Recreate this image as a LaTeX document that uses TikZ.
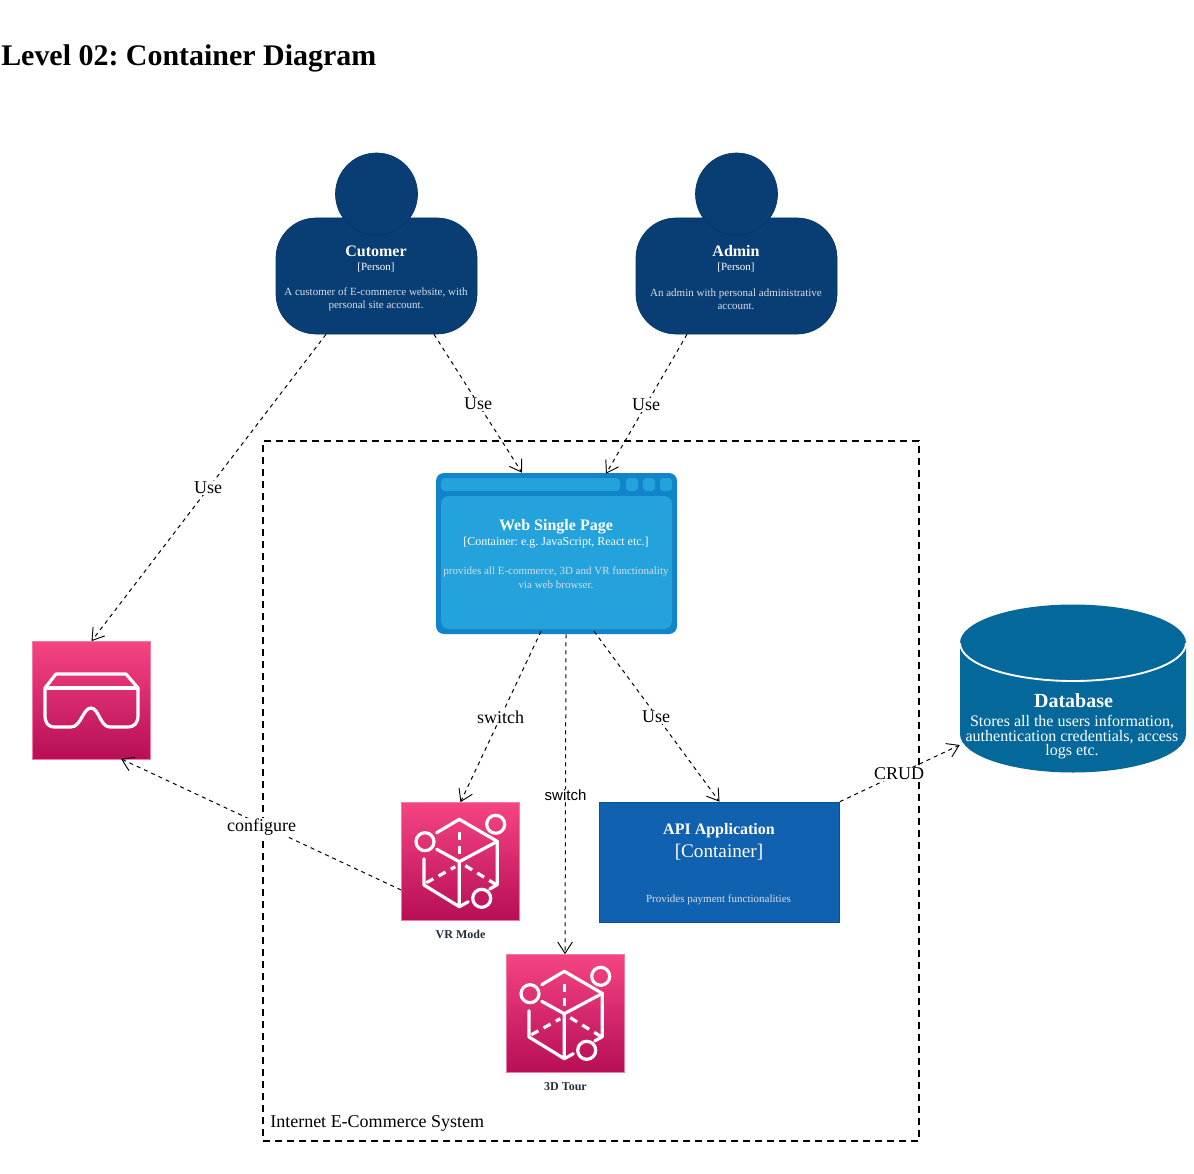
\documentclass[tikz,border=0pt]{standalone}
\usepackage{fontspec}
\setmainfont{Liberation Serif}
\newfontfamily\arialf{Liberation Sans}
\usetikzlibrary{arrows.meta,calc}
\definecolor{persona}{HTML}{083E74}
\definecolor{personb}{HTML}{073767}
\definecolor{webdark}{HTML}{1184CA}
\definecolor{weblight}{HTML}{23A2DC}
\definecolor{dbblue}{HTML}{05689B}
\definecolor{apiblue}{HTML}{1061B0}
\definecolor{apiedge}{HTML}{0D5091}
\definecolor{pinktop}{HTML}{F54483}
\definecolor{pinkbot}{HTML}{B70E56}
\definecolor{pinkedge}{HTML}{F07AA5}
\definecolor{lightt}{HTML}{D5DEE8}
\definecolor{darklab}{HTML}{232F3E}
\newcommand{\px}[2]{\fontsize{#1}{#2}\selectfont}
\tikzset{
  conn/.style={draw=black,line width=0.75pt,dash pattern=on 3pt off 3pt,
    -{Straight Barb[length=8.5pt,width=11pt,line width=0.7pt]}},
  edgelabel/.style={fill=white,inner sep=0.6pt,font=\px{13.5}{15}},
  awsbox/.style={rectangle,minimum width=88.5pt,minimum height=88.5pt,inner sep=0,
    draw=pinkedge,line width=0.5pt,top color=pinktop,bottom color=pinkbot},
  icon/.style={draw=white,line width=2.4pt,line cap=round,line join=round},
  icond/.style={draw=white,line width=2.4pt,line cap=butt,dash pattern=on 6pt off 4.5pt},
  persbody/.style={rectangle,rounded corners=30pt,minimum width=150.75pt,minimum height=87pt,
    inner sep=0,fill=persona,draw=personb,line width=0.5pt},
  pershead/.style={circle,minimum size=61.5pt,inner sep=0,fill=persona,draw=personb,line width=0.5pt},
  ttl/.style={text=white,inner sep=0,font=\bfseries\px{12}{14}},
  tag/.style={text=white,inner sep=0,font=\px{8.25}{10}},
  descr/.style={text=lightt,inner sep=0,align=center,font=\px{8.25}{9.6}},
  cubeicon/.pic={
    \draw[icon] (-22.6,-29) -- (0,-42.4) -- (38,-20.3) -- (38,23) -- (30.5,27.2);
    \draw[icon] (-22.6,-12.4) -- (0,0) -- (38,-20.3);
    \draw[icon] (0,0) -- (0,45) -- (-35.3,23.3) -- (-35.3,-3);
    \draw[icon] (0,45) -- (9,40);
    \draw[icond] (0,-30) -- (0,-6);
    \draw[icond] (-33,21) -- (-4,5);
    \draw[icond] (6,4) -- (37,23);
    \draw[icon,fill=none] (-34.3,-20) circle (9);
    \draw[icon,fill=none] (36.4,-37.4) circle (9);
    \draw[icon,fill=none] (22.4,36.6) circle (9);
  }
}
\begin{document}
\frenchspacing
\begin{tikzpicture}[x=0.75pt,y=-0.75pt]
\useasboundingbox (0,0) rectangle (1194,1173);
\fill[white] (0,0) rectangle (1194,1173);

\node[anchor=west,inner sep=0,font=\bfseries\px{22.45}{24}] (title) at (1,58) {Level 02: Container Diagram};

% system boundary
\node[rectangle,draw=black,line width=1.5pt,dash pattern=on 5.5pt off 3.5pt,minimum width=492pt,minimum height=525pt,inner sep=0] (boundary) at (591,791) {};
\node[anchor=west,inner sep=0,font=\px{13.5}{15}] (boundarylabel) at (270,1123) {Internet E-Commerce System};

% persons
\node[persbody] (cust) at (376.5,276) {};
\node[pershead] (custhead) at (376.5,194) {};
\node[ttl] (custt) at (376,251) {Cutomer};
\node[tag] (custk) at (376,267) {[Person]};
\node[descr] (custd) at (376,299.5) {A customer of E-commerce website, with\\personal site account.};

\node[persbody] (adm) at (736.5,276) {};
\node[pershead] (admhead) at (736.5,194) {};
\node[ttl] (admt) at (736,251) {Admin};
\node[tag] (admk) at (736,267) {[Person]};
\node[descr] (admd) at (736,299) {An admin with personal administrative\\account.};

% web application
\node[rectangle,rounded corners=6pt,fill=webdark,minimum width=180.75pt,minimum height=120.75pt,inner sep=0] (web) at (556.5,553.5) {};
\fill[weblight,rounded corners=3pt] (441,478) rectangle (620,491);
\fill[weblight,rounded corners=2.5pt] (626,478) rectangle (638,491);
\fill[weblight,rounded corners=2.5pt] (643,478) rectangle (655,491);
\fill[weblight,rounded corners=2.5pt] (660,478) rectangle (672,491);
\fill[weblight,rounded corners=6pt] (441,496) rectangle (672,629);
\node[ttl] (webt) at (556,526.5) {Web Single Page};
\node[text=white,inner sep=0,font=\px{9}{10}] (webk) at (556,543) {[Container: e.g. JavaScript, React etc.]};
\node[descr,font=\px{8.25}{10.5}] (webd) at (556,577.5) {provides all E-commerce, 3D and VR functionality\\via web browser.};

% database
\path[fill=dbblue] (960,643) -- (960,734) arc[start angle=180,end angle=0,x radius=113,y radius=38.5] -- (1186,643) arc[start angle=0,end angle=-180,x radius=113,y radius=38.5] -- cycle;
\draw[white,line width=1.4pt] (960,643) arc[start angle=180,end angle=0,x radius=113,y radius=38];
\node[inner sep=0,minimum width=169.5pt,minimum height=126pt] (db) at (1073,688.5) {};
\node[text=white,inner sep=0,font=\bfseries\px{15}{17}] (dbt) at (1073.5,701) {Database};
\node[text=white,inner sep=0,align=center,font=\px{12}{10.9}] (dbd) at (1072,737.5) {Stores all the users information,\\authentication credentials, access\\logs etc.};

% API
\node[rectangle,fill=apiblue,draw=apiedge,line width=0.5pt,minimum width=180pt,minimum height=90pt,inner sep=0] (api) at (719.5,862) {};
\node[ttl] (apit) at (719,830.5) {API Application};
\node[text=white,inner sep=0,font=\px{14.4}{16}] (apik) at (719,852) {[Container]};
\node[descr] (apid) at (718.5,900) {Provides payment functionalities};

% headset
\node[awsbox] (vr) at (91.5,700.5) {};
\draw[icon] (45.5,688) -- (136.5,688);
\draw[icon] (56,674) -- (126,674) -- (138,688) -- (138,715) .. controls (138,723) and (135,727) .. (127,727) -- (110,727) .. controls (100,727) and (99,708) .. (91,708) .. controls (83,708) and (81,727) .. (71,727) -- (55,727) .. controls (48,727) and (45,723) .. (45,715) -- (45,688) -- cycle;

% cubes
\node[awsbox] (vrmode) at (460.5,861.5) {};
\pic at (459.3,861.7) {cubeicon};
\node[inner sep=0,text=darklab,font=\bfseries\px{9}{10}] (vrmodel) at (460.5,934.5) {VR Mode};

\node[awsbox] (tour) at (565,1013.5) {};
\pic at (564.3,1013.7) {cubeicon};
\node[inner sep=0,text=darklab,font=\bfseries\px{9}{10}] (tourl) at (565.5,1086.5) {3D Tour};

% connectors
\draw[conn] ($(cust.south)+(-50.5,0)$) -- (vr.north);
\draw[conn] ($(cust.south)+(57.5,0)$) -- ($(web.north)+(-34.5,0)$);
\draw[conn] ($(adm.south)+(-49.5,0)$) -- ($(web.north)+(49.5,1)$);
\draw[conn] ($(web.south)+(-15.5,-3)$) -- (vrmode.north);
\draw[conn] ($(web.south)+(9.5,0)$) -- (tour.north);
\draw[conn] ($(web.south)+(37.5,-3)$) -- (api.north);
\draw[conn] (api.north east) -- ($(db.west)+(0,56.5)$);
\draw[conn] ($(vrmode.west)+(0,28.5)$) -- ($(vr.south)+(29.5,-1)$);

% connector labels
\node[edgelabel] (l1) at (208,488) {Use};
\node[edgelabel] (l2) at (478,404) {Use};
\node[edgelabel] (l3) at (646,405) {Use};
\node[edgelabel] (l4) at (500.5,717.5) {switch};
\node[edgelabel,font=\arialf\px{11.25}{13}] (l5) at (565.5,795) {switch};
\node[edgelabel] (l6) at (656,717) {Use};
\node[edgelabel] (l7) at (899,774) {CRUD};
\node[edgelabel] (l8) at (261.5,827) {configure};
\end{tikzpicture}
\end{document}
